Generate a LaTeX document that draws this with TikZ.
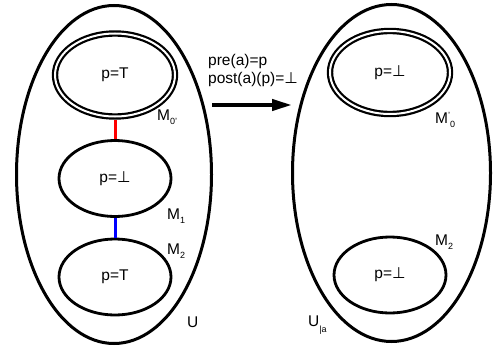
\documentclass[tikz,border=0pt]{standalone}
\usepackage{fontspec}
\setmainfont{Liberation Sans}
\newfontfamily\symfont{DejaVu Sans}
\usetikzlibrary{shapes.geometric,arrows.meta}
\newcommand{\falsum}{{\symfont ⊥}}
\newcommand{\lab}[3]{#1\raisebox{#3}{\fontsize{9}{9}\selectfont #2}}
\begin{document}
\begin{tikzpicture}[x=1pt,y=-1pt,
  font=\fontsize{15.5}{18}\selectfont,
  universe/.style={draw,ellipse,line width=3pt,inner sep=0pt},
  state/.style={draw,ellipse,line width=2.8pt,inner sep=0pt,minimum width=112pt,minimum height=76pt},
  initial/.style={draw,ellipse,line width=2.2pt,double,double distance=2pt,inner sep=0pt,outer sep=3.2pt,minimum width=120pt,minimum height=83pt},
  lbl/.style={anchor=base west,inner sep=0pt}]
\useasboundingbox (0,0) rectangle (494,353);

\node[universe,minimum width=195pt,minimum height=338pt] (uL) at (114,174.5) {};
\node[universe,minimum width=198pt,minimum height=337pt] (uR) at (391.5,173) {};

\node[initial] (m0L) at (115,75) {p=T};
\node[state] (m1L) at (115,178.5) {p=\falsum};
\node[state] (m2L) at (115,277) {p=T};
\node[initial] (m0R) at (390,72.5) {p=\falsum};
\node[state] (m2R) at (390,275) {p=\falsum};

\draw[red,line width=3pt] (m0L.south) -- (m1L.north);
\draw[blue,line width=3pt] (m1L.south) -- (m2L.north);

\node[lbl] (lm0L) at (157,120) {\lab{M}{0'}{-4pt}};
\node[lbl] (lm1L) at (167,219) {\lab{M}{1}{-4pt}};
\node[lbl] (lm2L) at (167,254) {\lab{M}{2}{-4pt}};
\node[lbl] (luL) at (187,327) {U};
\node[lbl] (lm0R) at (435,123) {M\raisebox{5pt}{\fontsize{9}{9}\selectfont '}\raisebox{-4pt}{\fontsize{9}{9}\selectfont 0}};
\node[lbl] (lm2R) at (435,245) {\lab{M}{2}{-4pt}};
\node[lbl] (luR) at (308,326) {\lab{U}{|a}{-6pt}};

\coordinate (aS) at (212,105);
\coordinate (aE) at (292,105);
\draw[line width=4pt,-{Triangle[length=20pt,width=11pt]}] (aS) -- (aE);
\node[lbl] (rulePre) at (208,65) {pre(a)=p};
\node[lbl] (rulePost) at (208,83) {post(a)(p)=\falsum};

\end{tikzpicture}
\end{document}
